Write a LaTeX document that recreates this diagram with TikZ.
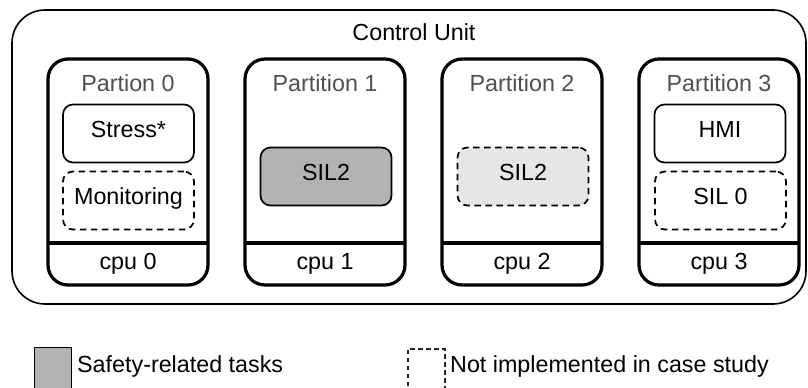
\documentclass[tikz,border=0pt]{standalone}
\usepackage{fontspec}
\setmainfont{Liberation Sans}
\definecolor{safetygray}{HTML}{B3B3B3}
\definecolor{lightsafety}{HTML}{E6E6E6}
\definecolor{labelgray}{HTML}{505050}
\begin{document}
\begin{tikzpicture}[x=1bp,y=-1bp,
  font=\fontsize{23.3bp}{27bp}\selectfont,
  txt/.style={inner sep=0pt, text height=0.716em, text depth=0pt},
  unitbox/.style={draw, line width=1.6bp, rounded corners=33bp,
    minimum width=794bp, minimum height=294bp, inner sep=0pt},
  partbox/.style={draw, line width=3.2bp, rounded corners=20bp,
    minimum width=160bp, minimum height=226bp, inner sep=0pt},
  taskbox/.style={draw, line width=1.7bp, rounded corners=10bp,
    minimum width=131bp, minimum height=58bp, inner sep=0pt,
    text height=0.716em, text depth=0pt},
  notimpl/.style={dash pattern=on 6.5bp off 4.5bp},
  partlabel/.style={txt, text=labelgray},
  divider/.style={line width=3.2bp}
]
\useasboundingbox (0,0) rectangle (808,387);
\clip (0,0) rectangle (808,387);

% control unit frame
\node[unitbox] (unit) at (409,157) {};
\node[txt] (unitlabel) at (414,37) {Control Unit};

% partitions
\foreach \i/\cx/\name in {0/128/Partion 0, 1/325/Partition 1, 2/522/Partition 2, 3/719/Partition 3}{
  \node[partbox] (p\i) at (\cx,172) {};
  \node[partlabel] (pl\i) at (\cx,88) {\name};
  \coordinate (dl\i) at (\cx-80,243);
  \coordinate (dr\i) at (\cx+80,243);
  \draw[divider] (dl\i) -- (dr\i);
  \node[txt] (cpu\i) at (\cx,266) {cpu \i};
}

% tasks
\node[taskbox] (stress) at (128.5,133.5) {Stress*};
\node[taskbox, notimpl] (monitor) at (128.5,200.5) {Monitoring};
\node[taskbox, fill=safetygray] (silA) at (326,176.5) {SIL2};
\node[taskbox, notimpl, fill=lightsafety] (silB) at (523,176.5) {SIL2};
\node[taskbox] (hmi) at (720,133.5) {HMI};
\node[taskbox, notimpl] (silzero) at (720.5,200.5) {SIL 0};

% legend
\node[draw, line width=1.3bp, fill=safetygray, minimum width=37bp,
  minimum height=45bp, inner sep=0pt, anchor=north west] (legA) at (34,347) {};
\node[txt, anchor=west] (legAtext) at (77,369) {Safety-related tasks};
\node[draw=black!85, line width=1.7bp, dash pattern=on 4.5bp off 3.5bp,
  minimum width=37bp, minimum height=45bp, inner sep=0pt,
  anchor=north west] (legB) at (407,348) {};
\node[txt, anchor=west] (legBtext) at (450,369) {Not implemented in case study};
\end{tikzpicture}
\end{document}
